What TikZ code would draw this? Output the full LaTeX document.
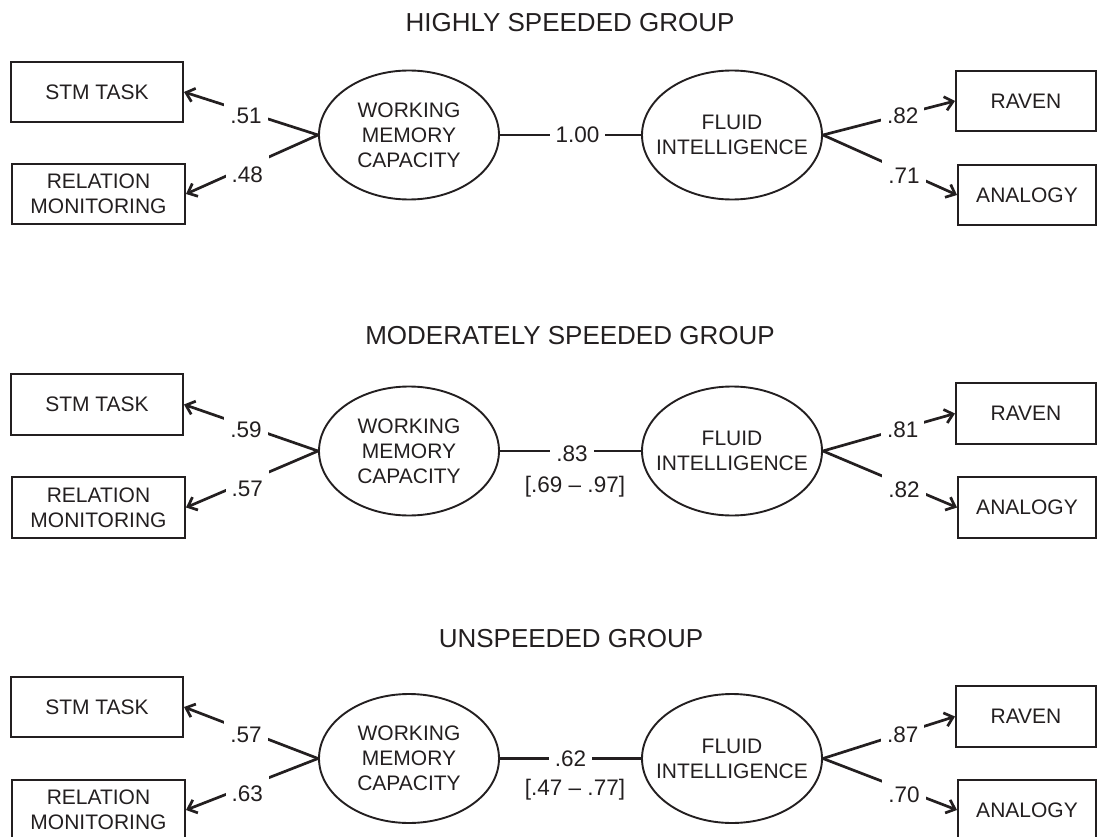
\documentclass[tikz,border=0pt]{standalone}
\usepackage{fontspec}
\setmainfont{Liberation Sans}
\usetikzlibrary{shapes.geometric,arrows.meta}
\definecolor{ink}{HTML}{231F20}
\begin{document}
\begin{tikzpicture}[x=1pt,y=-1pt,
  every node/.style={text=ink},
  manifest/.style={draw=ink, line width=2pt, rectangle, minimum height=60.5pt, inner sep=0pt, align=center, font=\fontsize{21}{25}\selectfont},
  leftbox/.style={manifest, minimum width=172pt},
  rightbox/.style={manifest, minimum width=139pt},
  latent/.style={draw=ink, line width=1.9pt, ellipse, minimum width=180pt, minimum height=129pt, inner sep=0pt},
  lattext/.style={align=center, font=\fontsize{21}{25}\selectfont, inner sep=0pt, text=ink},
  load/.style={draw=ink, line width=2.7pt, -{Straight Barb[length=8pt,width=14pt]}},
  corr/.style={draw=ink, line width=2.2pt},
  coef/.style={fill=white, inner xsep=6pt, inner ysep=12pt, font=\fontsize{22.5}{26}\selectfont},
  ci/.style={font=\fontsize{22.5}{26}\selectfont, inner sep=0pt},
  grouptitle/.style={font=\fontsize{26}{30}\selectfont, inner sep=0pt}
]
\useasboundingbox (0,0) rectangle (1097,837);

% ---------- Panel 1 ----------
\node[grouptitle] (t1) at (570,23) {HIGHLY SPEEDED GROUP};
\node[leftbox] (stm1) at (97,92) {STM TASK};
\node[leftbox, minimum width=173pt] (rel1) at (98.5,194) {RELATION\\MONITORING};
\node[latent, label={[lattext]center:WORKING\\MEMORY\\CAPACITY}] (wmc1) at (409,135) {};
\node[latent, label={[lattext]center:FLUID\\INTELLIGENCE}] (gf1) at (732,135) {};
\node[rightbox, minimum width=140pt] (rav1) at (1026,101) {RAVEN};
\node[rightbox, minimum width=138pt] (ana1) at (1027,195) {ANALOGY};
\draw[load] (wmc1.west) -- node[coef,pos=.537,yshift=-4pt] (l11) {.51} (stm1.east);
\draw[load] (wmc1.west) -- node[coef,pos=.537,yshift=-8pt] (l12) {.48} (rel1.east);
\draw[corr] (wmc1.east) -- node[coef,pos=.55] (r1) {1.00} (gf1.west);
\draw[load] (gf1.east) -- node[coef,pos=.604,yshift=-1.5pt] (l13) {.82} (rav1.west);
\draw[load] (gf1.east) -- node[coef,pos=.604,yshift=-5pt] (l14) {.71} (ana1.west);

% ---------- Panel 2 ----------
\node[grouptitle] (t2) at (570,336) {MODERATELY SPEEDED GROUP};
\node[leftbox] (stm2) at (97,404.5) {STM TASK};
\node[leftbox, minimum width=173pt] (rel2) at (98.5,507.5) {RELATION\\MONITORING};
\node[latent, label={[lattext]center:WORKING\\MEMORY\\CAPACITY}] (wmc2) at (409,451) {};
\node[latent, label={[lattext]center:FLUID\\INTELLIGENCE}] (gf2) at (732,451) {};
\node[rightbox, minimum width=140pt] (rav2) at (1026,413.5) {RAVEN};
\node[rightbox, minimum width=138pt] (ana2) at (1027,507.5) {ANALOGY};
\draw[load] (wmc2.west) -- node[coef,pos=.537,yshift=-4pt] (l21) {.59} (stm2.east);
\draw[load] (wmc2.west) -- node[coef,pos=.537,yshift=-8pt] (l22) {.57} (rel2.east);
\draw[corr] (wmc2.east) -- node[coef,pos=.51,yshift=-3pt] (r2) {.83} (gf2.west);
\node[ci] (ci2) at (575,486.5) {[.69 – .97]};
\draw[load] (gf2.east) -- node[coef,pos=.604,yshift=-1.5pt] (l23) {.81} (rav2.west);
\draw[load] (gf2.east) -- node[coef,pos=.604,yshift=-5pt] (l24) {.82} (ana2.west);

% ---------- Panel 3 ----------
\node[grouptitle] (t3) at (571,639) {UNSPEEDED GROUP};
\node[leftbox] (stm3) at (97,707) {STM TASK};
\node[leftbox, minimum width=173pt] (rel3) at (98.5,810) {RELATION\\MONITORING};
\node[latent, label={[lattext]center:WORKING\\MEMORY\\CAPACITY}] (wmc3) at (409,758.5) {};
\node[latent, label={[lattext]center:FLUID\\INTELLIGENCE}] (gf3) at (732,758.5) {};
\node[rightbox, minimum width=140pt] (rav3) at (1026,716.5) {RAVEN};
\node[rightbox, minimum width=138pt] (ana3) at (1027,810) {ANALOGY};
\draw[load] (wmc3.west) -- node[coef,pos=.537,yshift=-4pt] (l31) {.57} (stm3.east);
\draw[load] (wmc3.west) -- node[coef,pos=.537,yshift=-8pt] (l32) {.63} (rel3.east);
\draw[corr] (wmc3.east) -- node[coef,pos=.5] (r3) {.62} (gf3.west);
\node[ci] (ci3) at (575,789.5) {[.47 – .77]};
\draw[load] (gf3.east) -- node[coef,pos=.604,yshift=-1.5pt] (l33) {.87} (rav3.west);
\draw[load] (gf3.east) -- node[coef,pos=.604,yshift=-5pt] (l34) {.70} (ana3.west);
\end{tikzpicture}
\end{document}
